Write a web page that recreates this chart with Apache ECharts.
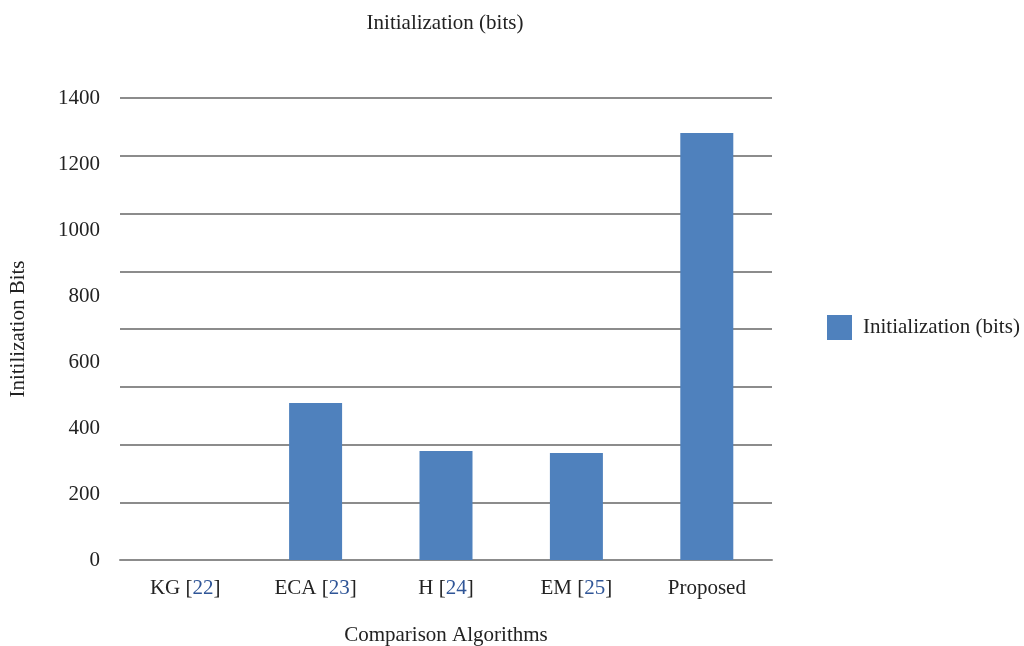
<!DOCTYPE html>
<html>
<head>
<meta charset="utf-8">
<script src="https://cdn.jsdelivr.net/npm/echarts@6/dist/echarts.min.js"></script>
<style>html,body{margin:0;padding:0;background:#fff}#c{width:1024px;height:646px}</style>
</head>
<body>
<div id="c"></div>
<script>
const categories = ['KG', 'ECA', 'H', 'EM', 'Proposed'];
const refs = ['22', '23', '24', '25', ''];
const values = [0, 476, 330, 324, 1294];
const yTickLabels = [0, 200, 400, 600, 800, 1000, 1200, 1400];
const seriesName = 'Initialization (bits)';

const font = 'Liberation Serif';
const fs = 21;
const chart = echarts.init(document.getElementById('c'));
chart.setOption({
  backgroundColor: '#fff',
  animation: false,
  textStyle: { fontFamily: font },
  title: {
    text: 'Initialization (bits)',
    left: 445, top: 13, textAlign: 'center', padding: 0,
    textStyle: { fontFamily: font, fontSize: fs, fontWeight: 'normal', color: '#222' }
  },
  legend: {
    left: 827, top: 315, padding: 0,
    itemWidth: 25, itemHeight: 25, itemGap: 10,
    icon: 'rect',
    textStyle: { fontFamily: font, fontSize: fs, color: '#222', padding: [0, 0, 0, 6] },
    data: [seriesName]
  },
  grid: { left: 120, right: 252, top: 98, bottom: 86, outerBoundsMode: 'none', containLabel: false },
  xAxis: {
    type: 'category',
    data: categories,
    name: 'Comparison Algorithms',
    nameLocation: 'middle', nameGap: 65,
    nameTextStyle: { fontFamily: font, fontSize: fs, color: '#222' },
    axisLine: { lineStyle: { color: '#8c8c8c', width: 2 } },
    axisTick: { show: false },
    axisLabel: {
      interval: 0, hideOverlap: false,
      margin: 18,
      fontFamily: font, fontSize: fs, color: '#222',
      formatter: function (v, i) {
        return refs[i] ? v + ' [{r|' + refs[i] + '}]' : v;
      },
      rich: { r: { fontFamily: font, fontSize: fs, color: '#2f5597' } }
    }
  },
  yAxis: [{
    type: 'value', min: 0, max: yTickLabels[yTickLabels.length - 1], interval: 200,
    name: 'Initilization Bits',
    nameLocation: 'middle', nameGap: 91, nameRotate: 90,
    nameTextStyle: { fontFamily: font, fontSize: fs, color: '#222' },
    axisLine: { show: false }, axisTick: { show: false },
    splitLine: { show: false },
    axisLabel: {
      margin: 20, fontFamily: font, fontSize: fs, color: '#222',
      formatter: function (v) { return String(v); }
    }
  }, {
    type: 'value', min: 0, max: 1400, interval: 175, position: 'left',
    axisLine: { show: false }, axisTick: { show: false },
    axisLabel: { show: false },
    splitLine: { lineStyle: { color: '#8c8c8c', width: 2 } }
  }],
  series: [{
    name: seriesName,
    type: 'bar',
    yAxisIndex: 0,
    data: values,
    barWidth: 53,
    itemStyle: { color: '#4f81bd' }
  }]
});
</script>
</body>
</html>
